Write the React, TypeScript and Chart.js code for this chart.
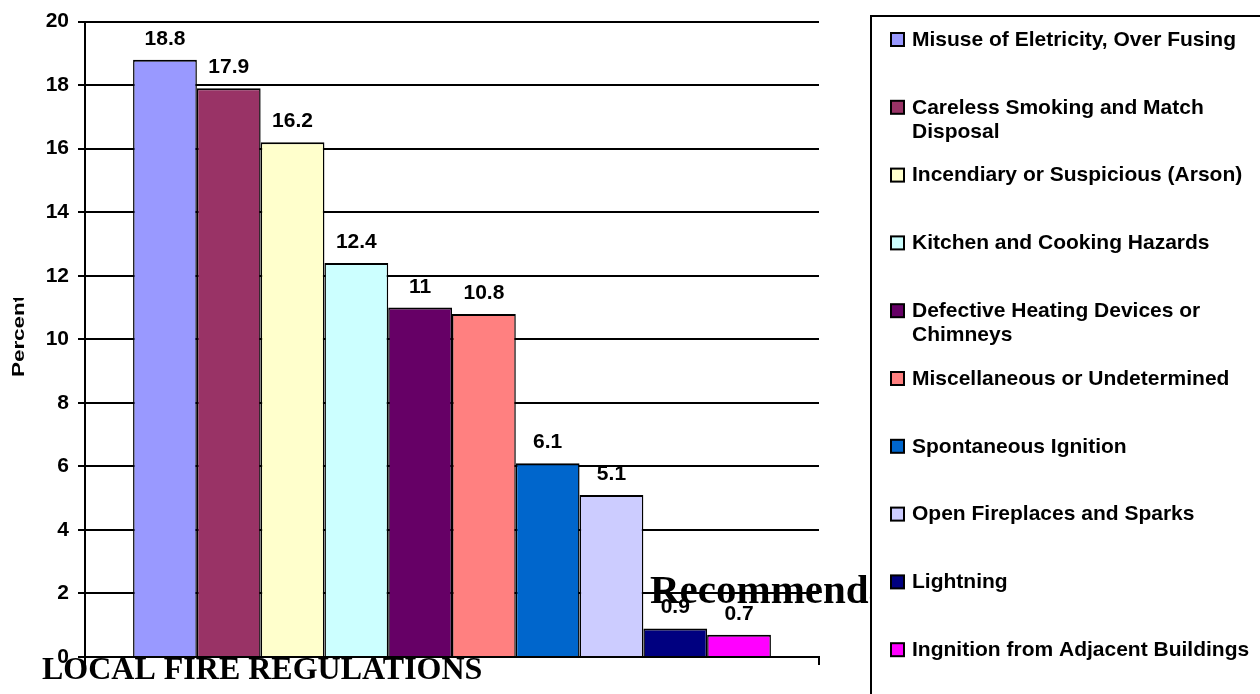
import React, { useEffect, useRef } from "react";
import { Chart, registerables } from "chart.js";

Chart.register(...registerables);

// Causes of fire, one series each (legend order = bar order)
const causes: string[] = [
  "Misuse of Eletricity, Over Fusing",
  "Careless Smoking and Match Disposal",
  "Incendiary or Suspicious (Arson)",
  "Kitchen and Cooking Hazards",
  "Defective Heating Devices or Chimneys",
  "Miscellaneous or Undetermined",
  "Spontaneous Ignition",
  "Open Fireplaces and Sparks",
  "Lightning",
  "Ingnition from Adjacent Buildings",
];

// Share of fires per cause, in percent
const percents: number[] = [18.8, 17.9, 16.2, 12.4, 11, 10.8, 6.1, 5.1, 0.9, 0.7];

const fills: string[] = [
  "#9999FF",
  "#993366",
  "#FFFFCC",
  "#CCFFFF",
  "#660066",
  "#FF8080",
  "#0066CC",
  "#CCCCFF",
  "#000080",
  "#FF00FF",
];

const yMin = 0;
const yMax = 20;
const yStep = 2;
const yTitle = "Percent";

// Slide text that sits over the chart
const slideHeading = "LOCAL FIRE REGULATIONS";
const slideSubheading = "Recommendations";

const SANS = '"Liberation Sans", Arial, Helvetica, sans-serif';
const SERIF = '"Liberation Serif", "Times New Roman", serif';

const valueLabels = {
  id: "valueLabels",
  afterDatasetsDraw(chart: any) {
    const { ctx } = chart;
    ctx.save();
    ctx.font = `bold 21px ${SANS}`;
    ctx.fillStyle = "#000";
    ctx.textAlign = "center";
    ctx.textBaseline = "alphabetic";
    chart.data.datasets.forEach((ds: any, i: number) => {
      const meta = chart.getDatasetMeta(i);
      meta.data.forEach((bar: any, j: number) => {
        ctx.fillText(String(ds.data[j]), bar.x, bar.y - 15);
      });
    });
    ctx.restore();
  },
};

const overlay = {
  id: "overlay",
  afterDraw(chart: any) {
    const { ctx, chartArea } = chart;
    ctx.save();

    // rotated axis title, cut off by the slide frame
    ctx.save();
    ctx.beginPath();
    ctx.rect(0, 298, 60, 400);
    ctx.clip();
    ctx.translate(24, 377);
    ctx.rotate(-Math.PI / 2);
    ctx.scale(1.4, 1);
    ctx.font = `bold 16px ${SANS}`;
    ctx.fillStyle = "#000";
    ctx.textAlign = "left";
    ctx.textBaseline = "alphabetic";
    ctx.fillText(yTitle, 0, 0);
    ctx.restore();

    // slide titles
    ctx.fillStyle = "#000";
    ctx.textAlign = "left";
    ctx.textBaseline = "alphabetic";
    ctx.font = `bold 41px ${SERIF}`;
    ctx.fillText(slideSubheading, 650, 603);
    ctx.font = `bold 32px ${SERIF}`;
    ctx.fillText(slideHeading, 42, 679);

    // legend panel
    const boxLeft = chartArea.right + 52;
    const boxTop = 16;
    ctx.fillStyle = "#fff";
    ctx.fillRect(boxLeft, boxTop, chart.width - boxLeft + 20, chart.height);
    ctx.strokeStyle = "#000";
    ctx.lineWidth = 2;
    ctx.strokeRect(boxLeft, boxTop, chart.width - boxLeft + 20, chart.height);

    const markerX = boxLeft + 20;
    const textX = boxLeft + 41;
    const firstRow = 39;
    const rowStep = 67.8;
    const lineHeight = 24;
    const maxWidth = chart.width - textX - 4;
    ctx.font = `bold 21px ${SANS}`;
    ctx.textBaseline = "middle";
    causes.forEach((label, i) => {
      const cy = firstRow + i * rowStep;
      ctx.fillStyle = fills[i];
      ctx.fillRect(markerX, cy - 6, 13, 13);
      ctx.lineWidth = 2;
      ctx.strokeStyle = "#000";
      ctx.strokeRect(markerX, cy - 6, 13, 13);

      // simple word wrap
      const words = label.split(" ");
      const lines: string[] = [];
      let line = "";
      words.forEach((w) => {
        const test = line ? line + " " + w : w;
        if (ctx.measureText(test).width > maxWidth && line) {
          lines.push(line);
          line = w;
        } else {
          line = test;
        }
      });
      lines.push(line);
      ctx.fillStyle = "#000";
      lines.forEach((ln, k) => ctx.fillText(ln, textX, cy + 1 + k * lineHeight));
    });

    ctx.restore();
  },
};

export default function App() {
  const canvasRef = useRef<HTMLCanvasElement | null>(null);

  useEffect(() => {
    if (!canvasRef.current) return;
    const chart = new Chart(canvasRef.current, {
      type: "bar",
      data: {
        labels: [""],
        datasets: causes.map((name, i) => ({
          label: name,
          data: [percents[i]],
          backgroundColor: fills[i],
          borderColor: "#000",
          borderWidth: { top: 2, left: 1.5, right: 1.5, bottom: 0 },
        })),
      },
      options: {
        responsive: false,
        animation: false,
        devicePixelRatio: 1,
        layout: { padding: { top: 21, right: 441, bottom: 0, left: 0 } },
        datasets: {
          bar: { categoryPercentage: 0.869, barPercentage: 1 },
        },
        plugins: {
          legend: { display: false },
          tooltip: { enabled: false },
          title: { display: false },
        },
        scales: {
          x: {
            offset: true,
            ticks: { display: false },
            grid: {
              offset: true,
              drawOnChartArea: false,
              color: "#000",
              lineWidth: 2,
              tickLength: 8,
            },
            border: { color: "#000", width: 2 },
            afterFit: (s: any) => {
              s.height = 37;
            },
          },
          y: {
            min: yMin,
            max: yMax,
            ticks: {
              stepSize: yStep,
              color: "#000",
              padding: 9,
              font: { family: SANS, size: 21, weight: "bold" },
            },
            grid: { color: "#000", lineWidth: 2, tickLength: 7 },
            border: { color: "#000", width: 2 },
            afterFit: (s: any) => {
              s.width = 85;
            },
          },
        },
      },
      plugins: [valueLabels, overlay],
    } as any);
    return () => chart.destroy();
  }, []);

  return (
    <div style={{ position: "fixed", left: 0, top: 0, width: 1260, height: 694, background: "#fff" }}>
      <canvas ref={canvasRef} width={1260} height={694} style={{ display: "block" }} />
    </div>
  );
}
